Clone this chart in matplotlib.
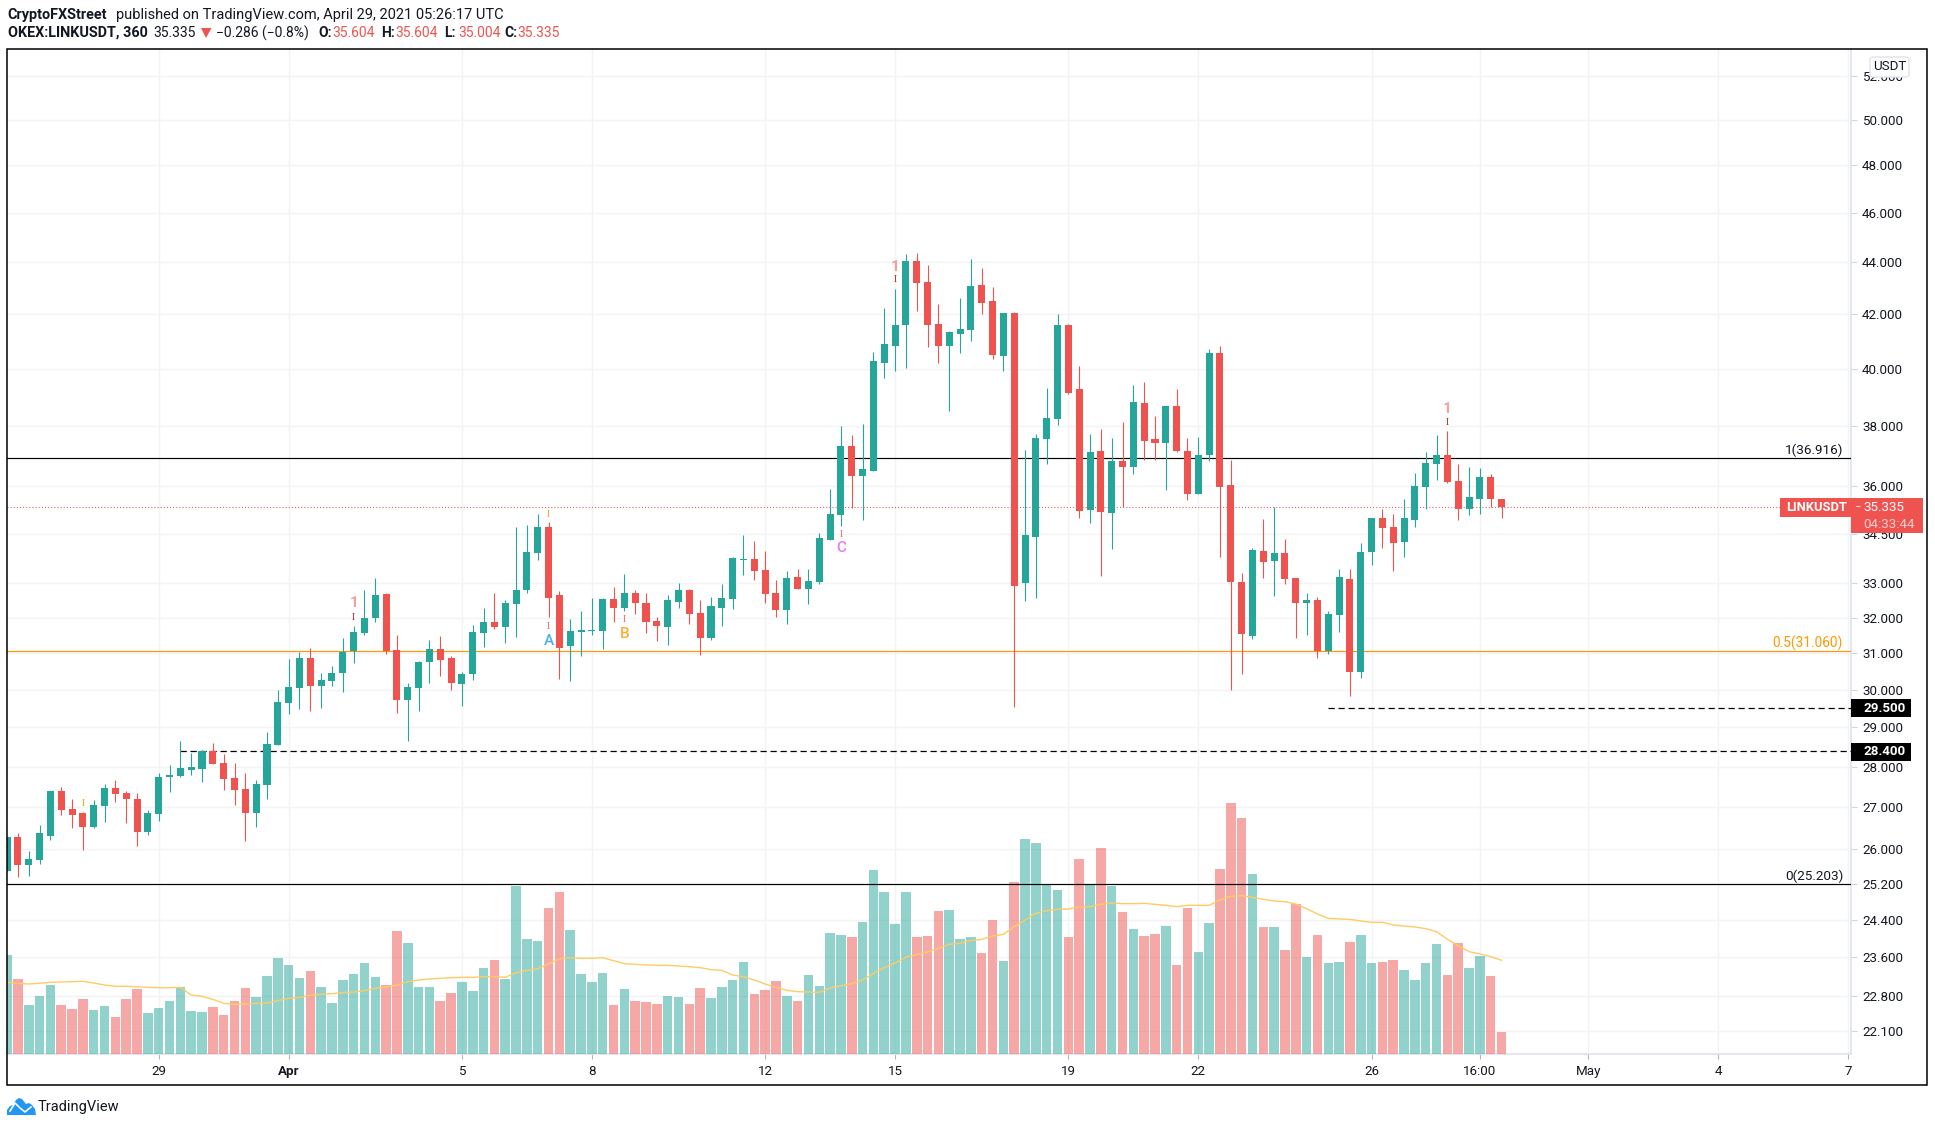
import matplotlib
matplotlib.use("Agg")
import matplotlib.pyplot as plt
from matplotlib.patches import Polygon, Rectangle, FancyBboxPatch
from matplotlib.ticker import NullLocator

W, H = 1935, 1127
UP = "#26a69a"
DOWN = "#ef5350"
INK = "#131722"
plt.rcParams["font.family"] = ["Roboto", "DejaVu Sans"]

# 6h candles, index 0 is the first visible one
opens = [25.50, 26.29, 25.64, 25.76, 26.32, 27.40, 26.96, 26.86, 26.53, 27.03,
         27.47, 27.35, 27.20, 26.41, 26.84, 27.74, 27.76, 27.91, 27.94, 28.39,
         28.08, 27.71, 27.44, 26.86, 27.55, 28.55, 29.65, 30.04, 30.87, 30.11,
         30.22, 30.44, 31.05, 31.57, 31.98, 32.67, 31.08, 29.73, 30.04, 30.76,
         31.11, 30.87, 30.14, 30.41, 31.57, 31.87, 31.72, 32.38, 32.81, 33.90,
         34.72, 32.65, 31.19, 31.60, 31.63, 31.63, 32.55, 32.29, 32.72, 32.41,
         31.89, 31.72, 32.46, 32.81, 32.12, 31.43, 32.29, 32.55, 33.71, 33.74,
         33.41, 32.70, 32.22, 33.19, 32.84, 33.04, 34.30, 35.07, 37.31, 36.34,
         36.51, 40.22, 40.81, 41.58, 44.05, 43.24, 41.64, 40.81, 41.25, 41.43,
         43.13, 42.52, 40.45, 42.05, 33.01, 34.39, 37.55, 38.22, 41.61, 39.27,
         35.23, 37.15, 35.14, 36.83, 36.64, 38.78, 37.55, 37.41, 38.68, 37.15,
         35.76, 37.01, 40.55, 36.04, 33.04, 31.49, 33.98, 33.67, 33.92, 33.16,
         32.41, 32.52, 31.06, 32.07, 33.13, 30.47, 33.94, 34.98, 34.70, 34.25,
         34.92, 35.98, 36.74, 37.01, 36.17, 35.28, 35.60, 36.31, 35.604]
highs = [26.29, 26.37, 25.96, 26.56, 27.40, 27.50, 27.20, 26.88, 27.18, 27.57,
         27.67, 27.40, 27.35, 26.94, 27.84, 28.03, 28.65, 28.34, 28.42, 28.60,
         28.32, 28.08, 27.84, 27.67, 28.88, 30.00, 30.84, 31.04, 31.14, 30.44,
         30.65, 31.43, 31.75, 32.81, 33.15, 32.72, 31.51, 30.17, 30.79, 31.37,
         31.49, 30.92, 30.47, 31.78, 32.27, 32.70, 32.50, 34.72, 34.76, 35.12,
         34.85, 32.77, 31.95, 32.19, 32.58, 32.58, 32.90, 33.29, 32.81, 32.72,
         32.01, 32.65, 33.01, 32.84, 32.50, 32.61, 32.98, 33.80, 34.45, 34.26,
         33.96, 33.10, 33.38, 33.44, 33.44, 34.51, 35.90, 38.01, 37.68, 38.08,
         40.61, 42.24, 42.97, 44.33, 44.37, 43.90, 42.40, 41.39, 42.63, 44.14,
         43.78, 43.05, 42.05, 42.09, 37.18, 37.71, 39.31, 42.01, 41.65, 40.08,
         37.71, 37.91, 37.58, 38.12, 39.41, 39.52, 38.33, 38.68, 39.27, 37.58,
         37.61, 40.72, 40.84, 36.87, 33.32, 34.07, 34.95, 35.34, 34.33, 33.16,
         32.72, 32.61, 32.18, 33.44, 33.44, 34.22, 34.98, 35.28, 35.13, 35.60,
         36.43, 37.13, 37.68, 37.82, 36.74, 36.64, 36.58, 36.41, 35.604]
lows = [25.50, 25.37, 25.39, 25.66, 26.22, 26.82, 26.51, 25.98, 26.49, 26.65,
        27.13, 26.63, 26.08, 26.34, 26.67, 27.37, 27.74, 27.79, 27.62, 28.06,
        27.42, 27.06, 26.19, 26.53, 27.20, 28.55, 29.34, 29.47, 29.44, 29.52,
        30.11, 29.93, 30.73, 31.51, 31.87, 30.97, 29.37, 28.65, 29.44, 30.17,
        30.38, 29.98, 29.57, 30.25, 31.17, 31.67, 31.27, 31.46, 32.72, 33.71,
        32.01, 30.30, 30.22, 30.92, 31.51, 31.11, 31.87, 32.18, 32.10, 31.55,
        31.35, 31.21, 32.29, 31.83, 30.95, 31.37, 31.75, 32.24, 33.25, 33.10,
        32.41, 32.01, 31.83, 32.84, 32.38, 32.98, 34.30, 34.73, 35.29, 34.92,
        36.48, 39.66, 39.92, 40.01, 42.13, 40.78, 40.22, 38.50, 40.56, 41.00,
        42.01, 40.34, 39.92, 29.53, 32.49, 32.58, 36.71, 38.04, 39.12, 34.98,
        34.83, 33.22, 34.03, 35.34, 36.41, 36.87, 36.87, 35.89, 37.11, 35.57,
        35.76, 36.83, 33.80, 30.00, 30.42, 31.38, 33.16, 32.62, 32.98, 31.41,
        31.50, 30.87, 30.96, 31.58, 29.82, 30.31, 33.54, 34.07, 33.38, 33.78,
        34.70, 35.28, 36.21, 36.11, 34.92, 35.07, 35.13, 35.32, 35.004]
closes = [26.29, 25.64, 25.78, 26.37, 27.40, 26.94, 26.82, 26.53, 27.06, 27.47,
          27.32, 27.20, 26.41, 26.86, 27.74, 27.79, 27.96, 27.98, 28.39, 28.06,
          27.69, 27.42, 26.86, 27.57, 28.57, 29.68, 30.07, 30.87, 30.11, 30.25,
          30.46, 31.04, 31.60, 31.98, 32.65, 31.05, 29.73, 30.07, 30.76, 31.11,
          30.81, 30.17, 30.41, 31.60, 31.87, 31.72, 32.41, 32.81, 33.94, 34.72,
          32.58, 31.15, 31.63, 31.66, 31.66, 32.55, 32.29, 32.72, 32.41, 31.87,
          31.75, 32.50, 32.81, 32.10, 31.43, 32.33, 32.58, 33.77, 33.74, 33.38,
          32.69, 32.22, 33.16, 32.84, 33.07, 34.36, 35.10, 37.31, 36.34, 36.55,
          40.26, 40.88, 41.61, 44.05, 43.20, 41.61, 40.84, 41.35, 41.46, 43.09,
          42.44, 40.48, 42.05, 32.92, 34.45, 37.58, 38.26, 41.58, 39.15, 35.20,
          37.11, 35.17, 36.83, 36.61, 38.82, 37.48, 37.41, 38.68, 37.15, 35.76,
          37.01, 40.55, 35.98, 33.04, 31.52, 34.01, 33.64, 33.92, 33.13, 32.41,
          32.50, 31.06, 32.10, 33.19, 30.47, 33.94, 34.98, 34.67, 34.22, 34.98,
          36.01, 36.77, 37.01, 36.14, 35.28, 35.64, 36.31, 35.60, 35.335]

# volume has no readable scale, so these are relative heights
volume = [297, 225, 147, 174, 207, 147, 135, 165, 132, 144,
          111, 165, 195, 123, 138, 159, 201, 129, 126, 141,
          117, 159, 198, 171, 234, 288, 267, 228, 249, 201,
          153, 222, 240, 273, 231, 207, 369, 333, 201, 201,
          159, 183, 216, 189, 258, 282, 225, 504, 345, 339,
          438, 486, 372, 240, 216, 243, 147, 195, 159, 156,
          150, 174, 171, 150, 198, 168, 201, 222, 276, 180,
          192, 219, 174, 159, 237, 204, 363, 357, 351, 396,
          552, 486, 390, 486, 351, 354, 429, 432, 345, 351,
          303, 402, 279, 516, 645, 633, 507, 492, 351, 585,
          507, 618, 504, 426, 375, 354, 360, 384, 267, 438,
          306, 393, 555, 753, 708, 540, 381, 381, 312, 450,
          291, 357, 273, 276, 336, 357, 273, 276, 282, 252,
          222, 273, 330, 237, 333, 258, 294, 234, 66]
volume_ma = [215, 212, 210, 212, 215, 216, 217, 218, 213, 207,
             203, 203, 202, 200, 199, 199, 200, 177, 173, 164,
             152, 149, 150, 152, 153, 160, 167, 170, 176, 179,
             181, 184, 186, 190, 197, 201, 207, 217, 222, 225,
             227, 229, 230, 230, 232, 232, 230, 244, 250, 256,
             270, 286, 289, 287, 287, 289, 280, 271, 269, 267,
             266, 266, 264, 262, 259, 253, 251, 237, 232, 222,
             210, 200, 191, 187, 186, 185, 198, 205, 211, 222,
             242, 259, 273, 290, 298, 306, 317, 329, 332, 340,
             344, 354, 359, 382, 402, 422, 430, 434, 435, 441,
             442, 449, 453, 451, 451, 452, 449, 446, 442, 446,
             446, 446, 462, 473, 475, 470, 464, 459, 457, 450,
             436, 420, 407, 405, 404, 399, 395, 395, 387, 384,
             381, 376, 367, 344, 325, 307, 300, 292, 281]

price_ticks = [52, 50, 48, 46, 44, 42, 40, 38, 36, 34.5, 33, 32, 31, 30, 29,
               28, 27, 26, 25.2, 24.4, 23.6, 22.8, 22.1]
date_ticks = [14, 26, 42, 54, 70, 82, 98, 110, 126, 136, 146, 158, 170]
date_labels = ["29", "Apr", "5", "8", "12", "15", "19", "22", "26", "16:00",
               "May", "4", "7"]

fib_levels = [36.916, 31.06, 25.203]
fib_colours = ["black", "#ff9800", "black"]
fib_labels = ["1(36.916)", "0.5(31.060)", "0(25.203)"]
support_levels = [28.4, 29.5]
support_starts = [16, 122]
last_price = 35.335

# (candle, price, text, colour, alpha, size)
signal_marks = [
    (7, 27.10, "I", "#ff9800", 1, 7),
    (32, 32.41, "1", DOWN, 0.55, 11),
    (32, 32.00, "I", "#b71c1c", 1, 7),
    (50, 35.10, "I", "#ff9800", 1, 7),
    (50, 31.76, "I", DOWN, 0.9, 7),
    (50, 31.35, "A", "#2196f3", 0.8, 11),
    (57, 31.94, "I", DOWN, 0.9, 7),
    (57, 31.53, "B", "#ff9800", 0.8, 11),
    (77, 34.46, "I", DOWN, 0.9, 7),
    (77, 34.07, "C", "#e040fb", 0.7, 11),
    (82, 43.80, "1", DOWN, 0.55, 11),
    (82, 43.33, "I", "#b71c1c", 1, 7),
    (133, 38.57, "1", DOWN, 0.55, 11),
    (133, 38.13, "I", "#b71c1c", 1, 7),
]


def fx(x):
    return x / W


def fy(y):
    return 1 - y / H


def label(fig, x, y, s, **kw):
    kw.setdefault("va", "center")
    kw.setdefault("color", INK)
    kw.setdefault("fontsize", 10.4)
    kw.setdefault("zorder", 8)
    return fig.text(fx(x), fy(y), s, **kw)


def box(fig, x0, y0, x1, y1, colour, zorder=6):
    fig.add_artist(Rectangle((fx(x0), fy(y1)), (x1 - x0) / W, (y1 - y0) / H,
                             transform=fig.transFigure, facecolor=colour,
                             edgecolor="none", zorder=zorder))


def main():
    fig = plt.figure(figsize=(W / 100, H / 100), dpi=100, facecolor="white")
    rect = [fx(7.3), fy(1054), (1851 - 7.3) / W, (1054 - 49.3) / H]

    # three layers: grid and ticks, then volume, then candles
    ax_bg = fig.add_axes(rect, zorder=0)
    ax_vol = fig.add_axes(rect, zorder=1)
    ax = fig.add_axes(rect, sharex=ax_bg, sharey=ax_bg, zorder=2)

    ax_bg.set_yscale("log")
    ax_bg.set_ylim(21.64, 53.26)
    ax_bg.set_xlim(0.02, 170.27)
    ax_bg.yaxis.set_minor_locator(NullLocator())
    ax_bg.set_yticks(price_ticks)
    ax_bg.set_yticklabels(["{:.3f}".format(t) for t in price_ticks])
    ax_bg.yaxis.set_minor_locator(NullLocator())
    ax_bg.set_xticks(date_ticks)
    ax_bg.set_xticklabels(date_labels)
    ax_bg.grid(True, color="#f1f3f6", linewidth=1.0)
    ax_bg.set_axisbelow(True)
    ax_bg.tick_params(axis="y", which="major", left=False, labelleft=False,
                      right=True, labelright=True, length=4.3, width=0.8,
                      pad=3.6, color="#d1d4dc", labelcolor=INK, labelsize=9.6)
    ax_bg.tick_params(axis="x", length=3.6, width=0.8, pad=4, color="#b2b5be",
                      labelcolor=INK, labelsize=9.6)
    ax_bg.get_xticklabels()[1].set_fontweight("bold")
    for name, spine in ax_bg.spines.items():
        spine.set_visible(name in ("right", "bottom"))
        spine.set_color("#e0e3eb")
        spine.set_linewidth(1.2)

    x = list(range(len(closes)))
    up = [c >= o for o, c in zip(opens, closes)]

    vol_colours = [UP if u else DOWN for u in up]
    ax_vol.bar(x, volume, width=0.88, color=vol_colours, alpha=0.5, linewidth=0)
    ax_vol.plot(x, volume_ma, color="#ffcb66", linewidth=1.0)
    ax_vol.set_xlim(ax_bg.get_xlim())
    ax_vol.set_ylim(0, 3014)
    ax_vol.axis("off")

    ax.axis("off")
    for level, colour in zip(fib_levels, fib_colours):
        ax.axhline(level, color=colour, linewidth=0.85, zorder=2)
    ax.axhline(last_price, color=DOWN, linewidth=0.75, linestyle=(0, (1, 2)), zorder=2)
    for level, start in zip(support_levels, support_starts):
        ax.plot([start, 170.27], [level, level], color="black", linewidth=0.9,
                linestyle=(0, (5, 3)), zorder=2)

    candle_colours = [UP if u else DOWN for u in up]
    ax.vlines(x, lows, highs, colors=candle_colours, linewidth=0.8, zorder=3)
    bottoms = [min(o, c) for o, c in zip(opens, closes)]
    heights = [abs(c - o) for o, c in zip(opens, closes)]
    ax.bar(x, heights, bottom=bottoms, width=0.65, color=candle_colours,
           linewidth=0, zorder=4)

    for i, price, s, colour, alpha, size in signal_marks:
        family = "Liberation Serif" if s == "I" else "Roboto"
        weight = "bold" if s == "1" else "medium"
        ax.text(i, price, s, color=colour, alpha=alpha, fontsize=size, family=family,
                fontweight=weight, ha="center", va="center", zorder=5)

    # fib level captions
    label(fig, 1843, 450.7, fib_labels[0], ha="right", fontsize=9.7)
    label(fig, 1843, 643, fib_labels[1], ha="right", color="#ff9800", fontsize=9.9)
    label(fig, 1843, 876.7, fib_labels[2], ha="right", fontsize=9.7)

    # price scale tags
    box(fig, 1780, 498, 1923, 516.7, DOWN)
    box(fig, 1851, 516, 1923, 532.7, DOWN)
    label(fig, 1786, 507.5, "LINKUSDT", color="white", fontweight="bold", fontsize=9.3)
    label(fig, 1854, 506.5, "\u2212", color="white", fontsize=8)
    label(fig, 1863, 507.5, "35.335", color="white", fontsize=9.6)
    label(fig, 1863, 524.5, "04:33:44", color="#fbd0ce", fontsize=9.6)
    for level_y, s in [(708, "29.500"), (751.7, "28.400")]:
        box(fig, 1851, level_y - 9, 1911, level_y + 9, "black")
        label(fig, 1863, level_y, s, color="white", fontweight="bold", fontsize=9.6)

    fig.add_artist(FancyBboxPatch((fx(1870), fy(77)), 39 / W, 20 / H,
                                  boxstyle="round,pad=0,rounding_size=0.002",
                                  transform=fig.transFigure, facecolor="white",
                                  edgecolor="#e0e3eb", linewidth=1, zorder=6))
    label(fig, 1889.5, 67, "USDT", ha="center", fontsize=9.6)

    # outer frame
    fig.add_artist(Rectangle((fx(7), fy(1085)), (1927 - 7) / W, (1085 - 49) / H,
                             transform=fig.transFigure, fill=False,
                             edgecolor="black", linewidth=1.1, zorder=7))

    # header
    label(fig, 7.7, 14.7, "CryptoFXStreet", fontweight="bold")
    label(fig, 115.7, 14.7, "published on TradingView.com, April 29, 2021 05:26:17 UTC",
          fontsize=10.5)
    label(fig, 7.7, 33, "OKEX:LINKUSDT, 360", fontweight="bold")
    label(fig, 153.6, 33, "35.335", fontsize=10)
    fig.add_artist(Polygon([(fx(201), fy(28)), (fx(211.5), fy(28)), (fx(206), fy(38))],
                           transform=fig.transFigure, facecolor=DOWN,
                           edgecolor="none", zorder=8))
    label(fig, 215.7, 33, "\u22120.286 (\u22120.8%)", fontsize=10)
    for lx, vx, name, value in [(318, 332.6, "O:", "35.604"), (381, 395, "H:", "35.604"),
                                (444.4, 458, "L:", "35.004"), (504.6, 517, "C:", "35.335")]:
        label(fig, lx, 33, name, fontweight="bold", fontsize=10)
        label(fig, vx, 33, value, color=DOWN, fontsize=10)

    # logo
    cloud = [(7, 1115), (7, 1110), (10, 1106), (13, 1105), (16, 1100), (19, 1098),
             (22, 1099), (26, 1104), (29, 1103), (32, 1105), (35, 1109), (36, 1115)]
    fig.add_artist(Polygon([(fx(a), fy(b)) for a, b in cloud], transform=fig.transFigure,
                           facecolor="#2196f3", edgecolor="none", zorder=8))
    wave = [(10, 1111), (15, 1103), (20, 1108), (25, 1112), (31, 1107)]
    fig.add_artist(plt.Line2D([fx(a) for a, b in wave], [fy(b) for a, b in wave],
                              transform=fig.transFigure, color="white", linewidth=1.2,
                              zorder=9))
    label(fig, 38, 1107, "TradingView", fontsize=10.5)

    fig.savefig("out.png", dpi=100)


if __name__ == "__main__":
    main()
